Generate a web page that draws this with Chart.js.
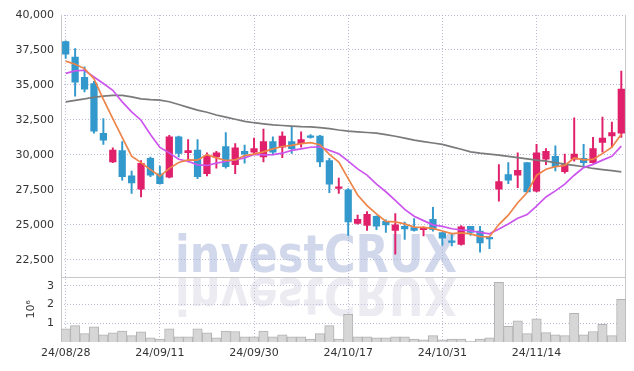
<!DOCTYPE html>
<html><head><meta charset="utf-8">
<script src="https://cdn.jsdelivr.net/npm/chart.js@4.4.1/dist/chart.umd.min.js"></script>
<style>html,body{margin:0;padding:0;background:#fff;}#wrap{width:634px;height:371px;position:relative;}</style>
</head><body><div id="wrap"><canvas id="c"></canvas></div>
<script>
const dates = ['24/08/28','24/08/29','24/08/30','24/09/02','24/09/03','24/09/04','24/09/05','24/09/06','24/09/09','24/09/10',
'24/09/11','24/09/12','24/09/13','24/09/19','24/09/20','24/09/23','24/09/24','24/09/25','24/09/26','24/09/27',
'24/09/30','24/10/02','24/10/04','24/10/07','24/10/08','24/10/10','24/10/11','24/10/14','24/10/15','24/10/16',
'24/10/17','24/10/18','24/10/21','24/10/22','24/10/23','24/10/24','24/10/25','24/10/28','24/10/29','24/10/30',
'24/10/31','24/11/01','24/11/04','24/11/05','24/11/06','24/11/07','24/11/08','24/11/11','24/11/12','24/11/13',
'24/11/14','24/11/15','24/11/18','24/11/19','24/11/20','24/11/21','24/11/22','24/11/25','24/11/26','24/11/27'];
const opens = [38100,37000,35550,35100,31550,29500,30300,28500,27550,29750,
28650,28400,31300,30150,30350,28650,29850,30600,29300,30250,
30200,29850,30950,30550,30950,30800,31300,31350,29600,27600,
27500,25100,24950,25600,25250,24600,24900,24800,24650,25400,
24450,23780,23600,24900,24550,24050,27550,28600,28550,29450,
27400,29700,29900,28800,29700,29750,29450,30900,31350,31550];
const highs = [38150,37600,36300,35250,32600,30500,30950,28850,29600,29850,
29200,31400,31350,31100,31100,30150,30250,31600,30800,30700,
31200,31850,31300,31650,32050,31650,31450,31400,29750,28350,
27600,25700,25950,25650,25350,25800,25200,25450,24850,26250,
24450,24400,24950,24900,24900,24150,29300,29450,30150,29450,
30750,30450,30650,30050,32650,30750,31250,32700,32350,36000];
const lows = [36900,34200,34500,31550,30750,29450,28200,27250,27000,28450,
27900,28350,29850,29500,28300,28500,29050,29050,28650,29400,
30030,29500,30000,29800,30100,30550,31200,29150,27300,27250,
24250,25050,24600,24650,24450,22900,23950,24550,24200,24550,
23550,23500,23550,24250,23050,23300,26700,27950,27650,27350,
27350,29300,28850,28700,29550,29150,29400,30200,30550,31250];
const closes = [37200,35200,34700,31700,31050,30350,28450,28000,29400,28550,
27950,31300,30100,30300,28450,29950,30150,29150,30500,30050,
30450,30950,30200,31350,30450,31100,31250,29500,27900,27650,
25200,25400,25750,24900,25000,25000,24700,24600,24800,24650,
24050,23750,24850,24450,23700,24000,28100,28200,28900,27350,
30150,30250,29150,29300,30050,29450,30450,31200,31600,34700];
const volumes = [0.70,0.88,0.45,0.81,0.39,0.49,0.59,0.34,0.54,0.22,
0.16,0.70,0.27,0.27,0.70,0.49,0.22,0.59,0.56,0.27,
0.27,0.59,0.27,0.38,0.27,0.27,0.16,0.45,0.88,0.16,
1.48,0.27,0.27,0.22,0.22,0.27,0.27,0.16,0.11,0.34,
0.11,0.16,0.16,0.05,0.16,0.22,3.19,0.84,1.13,0.45,
1.24,0.50,0.39,0.34,1.53,0.38,0.56,0.94,0.34,2.29];
const ma5 = [36700,36480,36170,35450,33970,32600,31250,29910,29450,28950,
28470,29040,29460,29640,29620,30020,29790,29600,29640,29960,
30060,30220,30430,30600,30680,30810,30870,30730,30040,29480,
28300,27130,26380,25780,25250,25210,25070,24840,24820,24750,
24560,24370,24420,24350,24160,24150,25020,25690,26580,27310,
28540,28970,29160,29240,29780,29640,29680,30090,30550,31480];
const ma10 = [35830,36000,36050,35570,35100,34620,33790,33070,32480,31460,
30535,30145,29685,29545,29285,29245,29415,29530,29640,29790,
30040,30005,30015,30120,30320,30435,30545,30580,30320,30080,
29555,29000,28555,27910,27365,26755,26100,25610,25300,25000,
24885,24720,24630,24585,24455,24355,24695,25055,25465,25735,
26345,26995,27425,27910,28545,29090,29325,29625,29895,30630];
const ma60 = [33790,33900,34000,34120,34200,34250,34250,34150,34000,33950,
33920,33800,33600,33400,33200,33050,32850,32700,32550,32400,
32300,32220,32150,32100,32060,32020,32000,31950,31880,31780,
31700,31650,31600,31550,31450,31330,31200,31060,30950,30850,
30750,30570,30400,30220,30120,30050,29990,29900,29800,29720,
29620,29550,29450,29340,29250,29150,29030,28950,28870,28790];
const priceTicks = [22500,25000,27500,30000,32500,35000,37500,40000];
const volumeTicks = [1,2,3];
const xTickLabels = ['24/08/28','24/09/11','24/09/30','24/10/17','24/10/31','24/11/14'];

const UP = '#e0206a', DOWN = '#3399cc';
const candleColors = closes.map((c,i)=> c >= opens[i] ? UP : DOWN);
const tickFont = {family:'DejaVu Sans', size:11};
const gridColor = 'rgba(160,165,200,0.75)';

const deco = {
  id:'deco',
  beforeDatasetsDraw(chart){
    const ctx = chart.ctx, a = chart.chartArea;
    const sep = chart.scales.y.bottom;
    ctx.save();
    ctx.font = 'bold 52px "DejaVu Sans", Roboto, sans-serif';
    ctx.textBaseline = 'alphabetic';
    const txt = 'investCRUX';
    const w = ctx.measureText(txt).width;
    const sx = 282 / w;
    ctx.save();
    ctx.translate(175, 272.3);
    ctx.scale(sx, 1);
    ctx.fillStyle = 'rgba(165,178,218,0.5)';
    ctx.fillText(txt, 0, 0);
    ctx.restore();
    ctx.save();
    ctx.translate(175, 277.7);
    ctx.scale(sx, -1);
    ctx.fillStyle = 'rgba(200,200,215,0.36)';
    ctx.fillText(txt, 0, 0);
    ctx.restore();
    ctx.strokeStyle = '#c8c8c8';
    ctx.lineWidth = 1;
    ctx.beginPath();
    ctx.moveTo(a.left+0.5, a.top); ctx.lineTo(a.left+0.5, a.bottom);
    ctx.moveTo(a.right-0.5, a.top); ctx.lineTo(a.right-0.5, a.bottom);
    ctx.moveTo(a.left, a.bottom-0.5); ctx.lineTo(a.right, a.bottom-0.5);
    ctx.moveTo(a.left, Math.round(sep)+0.5); ctx.lineTo(a.right, Math.round(sep)+0.5);
    ctx.stroke();
    ctx.restore();
  }
};

new Chart(document.getElementById('c'), {
  data: {
    labels: dates,
    datasets: [
      {type:'line', label:'MA5', data: ma5, yAxisID:'y', borderColor:'#ee8448', borderWidth:1.7, pointRadius:0, tension:0, order:0},
      {type:'line', label:'MA10', data: ma10, yAxisID:'y', borderColor:'#cc55ee', borderWidth:1.7, pointRadius:0, tension:0, order:0},
      {type:'line', label:'MA60', data: ma60, yAxisID:'y', borderColor:'#7a7a7a', borderWidth:1.7, pointRadius:0, tension:0, order:0},
      {type:'bar', label:'body', data: opens.map((o,i)=>[o, closes[i]]), yAxisID:'y', backgroundColor: candleColors, borderWidth:0, barThickness:6.6, minBarLength:1.6, grouped:false, order:2},
      {type:'bar', label:'wick', data: lows.map((l,i)=>[l, highs[i]]), yAxisID:'y', backgroundColor: candleColors, borderWidth:0, barThickness:1.3, grouped:false, order:3},
      {type:'bar', label:'volume', data: volumes, yAxisID:'yv', backgroundColor:'#d6d6d6', borderColor:'#b2b2b2', borderWidth:1, barPercentage:1, categoryPercentage:1, grouped:false, order:5}
    ]
  },
  options: {
    responsive:true, maintainAspectRatio:false, animation:false,
    layout:{padding:{top:15, right:8, left:0, bottom:0}},
    plugins:{legend:{display:false}, tooltip:{enabled:false}},
    scales:{
      x:{
        type:'category', offset:true,
        grid:{offset:false, color:gridColor, drawTicks:false, lineWidth:1},
        border:{display:false, dash:[1,2]},
        afterBuildTicks(s){ s.ticks = s.ticks.filter(t => xTickLabels.includes(dates[t.value])); },
        afterFit(s){ s.height = 29; },
        ticks:{autoSkip:false, maxRotation:0, padding:5, font:tickFont, color:'#333'}
      },
      yv:{
        type:'linear', position:'left', stack:'panes', stackWeight:1, min:0, max:3.5,
        grid:{color:gridColor, drawTicks:false},
        border:{display:false, dash:[1,2]},
        afterBuildTicks(s){ s.ticks = volumeTicks.map(v=>({value:v})); },
        afterFit(s){ s.width = 61; },
        ticks:{padding:7, font:tickFont, color:'#333', callback:v=>String(v)},
        title:{display:true, text:'10⁶', font:{family:'DejaVu Sans', size:11}, color:'#333', padding:{top:25,bottom:0}}
      },
      y:{
        type:'linear', position:'left', stack:'panes', stackWeight:4, min:21300, max:40000,
        grid:{color:gridColor, drawTicks:false},
        border:{display:false, dash:[1,2]},
        afterBuildTicks(s){ s.ticks = priceTicks.map(v=>({value:v})); },
        afterFit(s){ s.width = 61; },
        ticks:{padding:7, font:tickFont, color:'#333', callback:v=>v.toLocaleString('en-US')}
      }
    }
  },
  plugins:[deco]
});
</script></body></html>
